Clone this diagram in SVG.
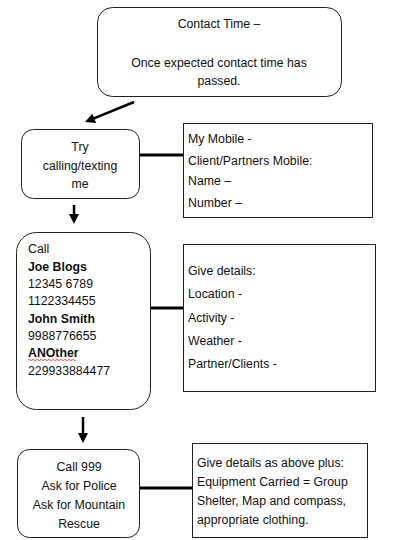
<svg xmlns="http://www.w3.org/2000/svg" width="400" height="540" viewBox="0 0 400 540">
<style>
text{font-family:"Liberation Sans",Arial,sans-serif;font-size:12.3px;fill:#111}
.c{text-anchor:middle}
.b{font-weight:bold}
.box{fill:#fff;stroke:#222;stroke-width:1}
.link{stroke:#000;stroke-width:3;fill:none}
.arr{stroke:#000;stroke-width:2.5;fill:none}
</style>
<defs>
<marker id="ah" viewBox="0 0 10 10" refX="3" refY="5" markerWidth="4" markerHeight="4" orient="auto">
<path d="M0,0 L10,5 L0,10 z" fill="#000"/>
</marker>
</defs>
<rect width="400" height="540" fill="#fff"/>
<g id="connectors">
<line class="arr" x1="134" y1="102" x2="91.5" y2="119.4" marker-end="url(#ah)"/>
<line class="link" x1="140" y1="155" x2="183" y2="155"/>
<line class="arr" x1="74" y1="205" x2="74" y2="217" marker-end="url(#ah)"/>
<line class="link" x1="151" y1="308" x2="183" y2="308"/>
<line class="arr" x1="83" y1="417" x2="83" y2="436" marker-end="url(#ah)"/>
<line class="link" x1="140" y1="488" x2="192" y2="488"/>
</g>
<g id="contact-time">
<rect class="box" x="97.5" y="7.5" width="244" height="89" rx="15"/>
<text class="c" x="219" y="28">Contact Time –</text>
<text class="c" x="219" y="67">Once expected contact time has</text>
<text class="c" x="219" y="85">passed.</text>
</g>
<g id="try-calling">
<rect class="box" x="21.5" y="129.5" width="118" height="69" rx="12"/>
<text class="c" x="80" y="151">Try</text>
<text class="c" x="80" y="170">calling/texting</text>
<text class="c" x="80" y="188">me</text>
</g>
<g id="mobiles">
<rect class="box" x="183.5" y="123.5" width="189" height="94"/>
<text x="188" y="143">My Mobile -</text>
<text x="188" y="165">Client/Partners Mobile:</text>
<text x="188" y="185">Name –</text>
<text x="188" y="207">Number –</text>
</g>
<g id="call-list">
<rect class="box" x="16.5" y="232.5" width="134" height="177" rx="20"/>
<text x="28" y="253">Call</text>
<text class="b" x="28" y="271">Joe Blogs</text>
<text x="28" y="288">12345 6789</text>
<text x="28" y="305">1122334455</text>
<text class="b" x="28" y="323">John Smith</text>
<text x="28" y="340">9988776655</text>
<text class="b" x="28" y="357">ANOther</text>
<path d="M28,360 q1,-1 2,0 t2,0 t2,0 t2,0 t2,0 t2,0 t2,0 t2,0 t2,0 t2,0 t2,0 t2,0 t2,0 t2,0 t2,0 t2,0 t2,0 t2,0 t2,0 t2,0 t2,0 t2,0 t2,0 t2,0" fill="none" stroke="#d00" stroke-width="0.7"/>
<text x="28" y="375">229933884477</text>
</g>
<g id="give-details">
<rect class="box" x="183.5" y="244.5" width="192" height="147"/>
<text x="188" y="275">Give details:</text>
<text x="188" y="298">Location -</text>
<text x="188" y="322">Activity -</text>
<text x="188" y="345">Weather -</text>
<text x="188" y="368">Partner/Clients -</text>
</g>
<g id="call-999">
<rect class="box" x="17.5" y="449.5" width="122" height="88" rx="12"/>
<text class="c" x="79" y="471">Call 999</text>
<text class="c" x="79" y="490">Ask for Police</text>
<text class="c" x="79" y="509">Ask for Mountain</text>
<text class="c" x="79" y="528">Rescue</text>
</g>
<g id="details-plus">
<rect class="box" x="192.5" y="443.5" width="175" height="94"/>
<text x="197" y="467">Give details as above plus:</text>
<text x="197" y="486">Equipment Carried = Group</text>
<text x="197" y="505">Shelter, Map and compass,</text>
<text x="197" y="524">appropriate clothing.</text>
</g>
</svg>
